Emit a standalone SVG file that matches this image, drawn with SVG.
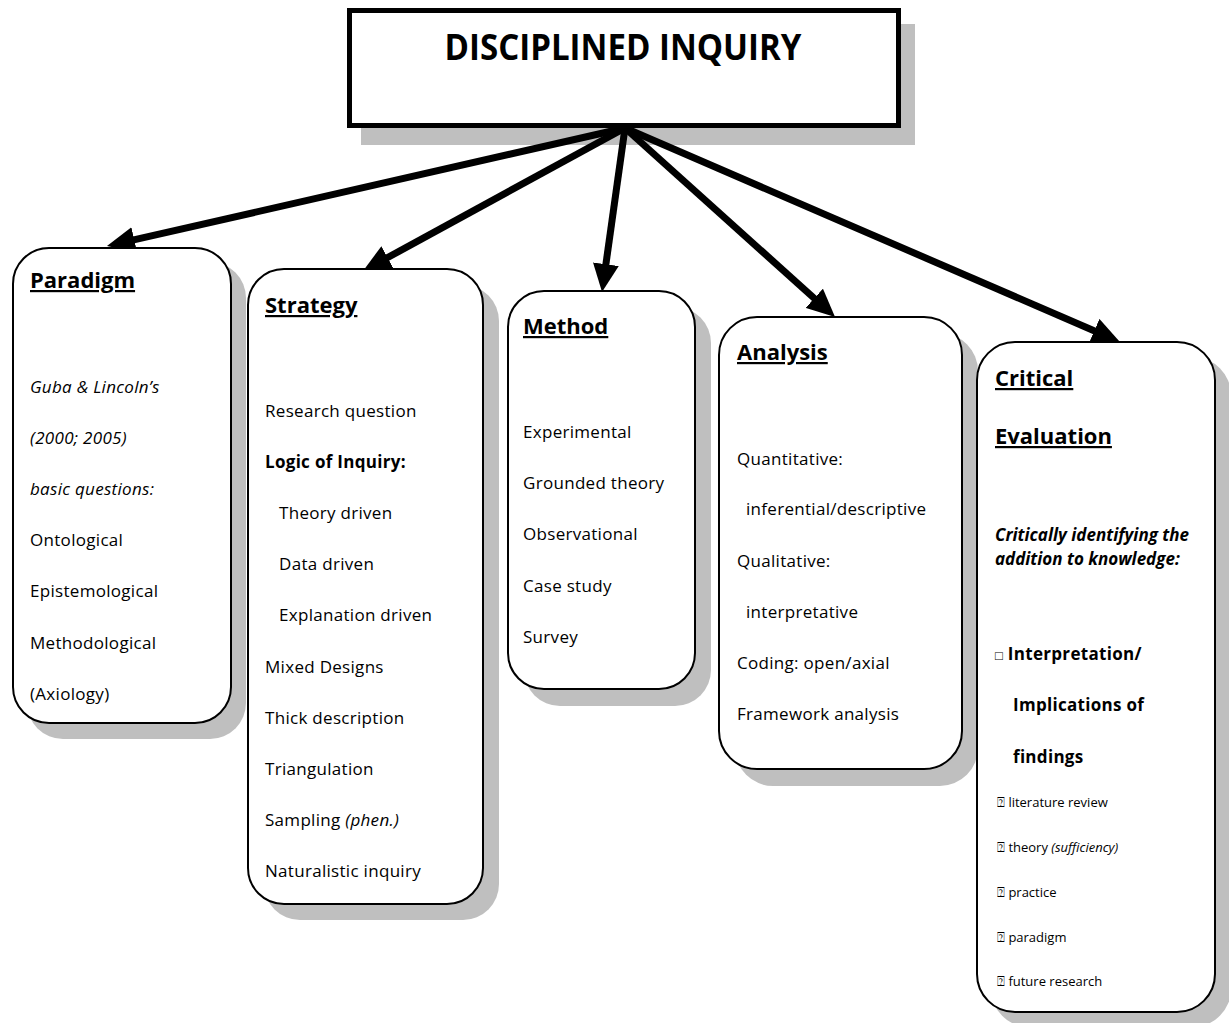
<svg xmlns="http://www.w3.org/2000/svg" width="1229" height="1023" viewBox="0 0 1229 1023">
<defs>
<style>
text{font-family:"Open Sans","Liberation Sans",sans-serif;fill:#000;}
.t{font-size:17px;letter-spacing:0.3px;}
.h{font-size:22px;font-weight:bold;text-decoration:underline;}
.i{font-style:italic;}
.b{font-weight:bold;}
.s{font-size:13px;}
.q{font-family:"DejaVu Sans",sans-serif;font-size:13px;}
.box{fill:#fff;stroke:#000;stroke-width:2;}
.sh{fill:#bfbfbf;}
.arr{stroke:#000;stroke-width:7;fill:none;marker-end:url(#ah);}
</style>
<marker id="ah" viewBox="0 0 28 26" refX="13" refY="13" markerWidth="28" markerHeight="26" markerUnits="userSpaceOnUse" orient="auto">
<path d="M0,0 L28,13 L0,26 z" fill="#000"/>
</marker>
</defs>
<rect width="1229" height="1023" fill="#fff"/>

<g id="title">
<rect class="sh" x="361" y="24" width="554" height="121"/>
<rect x="349.5" y="10.5" width="549" height="115" fill="#fff" stroke="#000" stroke-width="5"/>
<text x="623" y="60" text-anchor="middle" font-size="35" font-weight="bold" textLength="357" lengthAdjust="spacingAndGlyphs">DISCIPLINED INQUIRY</text>
</g>

<g id="connectors">
<line class="arr" x1="625" y1="128" x2="121.6" y2="242.7"/>
<line class="arr" x1="625" y1="128" x2="376.2" y2="263.8"/>
<line class="arr" x1="625" y1="128" x2="604.1" y2="277.1"/>
<line class="arr" x1="625" y1="128" x2="823.9" y2="307"/>
<line class="arr" x1="625" y1="128" x2="1106.2" y2="336"/>
</g>

<g id="paradigm">
<rect class="sh" x="27" y="262" width="219" height="477" rx="36"/>
<rect class="box" x="13" y="248" width="218" height="475" rx="36"/>
<text class="h" x="30" y="288">Paradigm</text>
<text class="t i" x="30" y="393">Guba &amp; Lincoln’s</text>
<text class="t i" x="30" y="444">(2000; 2005)</text>
<text class="t i" x="30" y="495">basic questions:</text>
<text class="t" x="30" y="546">Ontological</text>
<text class="t" x="30" y="597">Epistemological</text>
<text class="t" x="30" y="649">Methodological</text>
<text class="t" x="30" y="700">(Axiology)</text>
</g>

<g id="strategy">
<rect class="sh" x="264" y="285" width="235" height="635" rx="36"/>
<rect class="box" x="248" y="269" width="235" height="635" rx="36"/>
<text class="h" x="265" y="313">Strategy</text>
<text class="t" x="265" y="417">Research question</text>
<text class="t b" x="265" y="468">Logic of Inquiry:</text>
<text class="t" x="279" y="519">Theory driven</text>
<text class="t" x="279" y="570">Data driven</text>
<text class="t" x="279" y="621">Explanation driven</text>
<text class="t" x="265" y="673">Mixed Designs</text>
<text class="t" x="265" y="724">Thick description</text>
<text class="t" x="265" y="775">Triangulation</text>
<text class="t" x="265" y="826">Sampling <tspan class="i">(phen.)</tspan></text>
<text class="t" x="265" y="877">Naturalistic inquiry</text>
</g>

<g id="method">
<rect class="sh" x="524" y="307" width="187" height="399" rx="36"/>
<rect class="box" x="508" y="291" width="187" height="398" rx="36"/>
<text class="h" x="523" y="334">Method</text>
<text class="t" x="523" y="438">Experimental</text>
<text class="t" x="523" y="489">Grounded theory</text>
<text class="t" x="523" y="540">Observational</text>
<text class="t" x="523" y="592">Case study</text>
<text class="t" x="523" y="643">Survey</text>
</g>

<g id="analysis">
<rect class="sh" x="735" y="333" width="243" height="453" rx="38"/>
<rect class="box" x="719" y="317" width="243" height="452" rx="38"/>
<text class="h" x="737" y="360">Analysis</text>
<text class="t" x="737" y="465">Quantitative:</text>
<text class="t" x="746" y="515">inferential/descriptive</text>
<text class="t" x="737" y="567">Qualitative:</text>
<text class="t" x="746" y="618">interpretative</text>
<text class="t" x="737" y="669">Coding: open/axial</text>
<text class="t" x="737" y="720">Framework analysis</text>
</g>

<g id="critical">
<rect class="sh" x="991" y="357" width="240" height="670" rx="38"/>
<rect class="box" x="977" y="342" width="238" height="670" rx="38"/>
<text class="h" x="995" y="386">Critical</text>
<text class="h" x="995" y="444">Evaluation</text>
<text class="b i" font-size="17" x="995" y="541">Critically identifying the</text>
<text class="b i" font-size="17" x="995" y="565">addition to knowledge:</text>
<text class="t b" x="995" y="660"><tspan font-size="13" font-weight="normal">□</tspan> Interpretation/</text>
<text class="t b" x="1013" y="711">Implications of</text>
<text class="t b" x="1013" y="763">findings</text>
<text class="s" x="997" y="807"><tspan class="q">⍰</tspan> literature review</text>
<text class="s" x="997" y="852"><tspan class="q">⍰</tspan> theory <tspan class="i">(sufficiency)</tspan></text>
<text class="s" x="997" y="897"><tspan class="q">⍰</tspan> practice</text>
<text class="s" x="997" y="942"><tspan class="q">⍰</tspan> paradigm</text>
<text class="s" x="997" y="986"><tspan class="q">⍰</tspan> future research</text>
</g>
</svg>
